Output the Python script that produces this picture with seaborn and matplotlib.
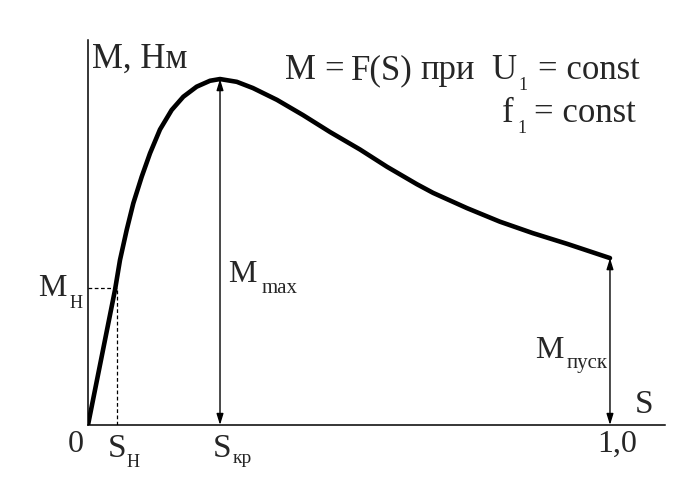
import matplotlib
matplotlib.use("Agg")
import matplotlib.pyplot as plt
import seaborn as sns

# ---- data (slip S, torque M in relative units, M_max = 1) ----
S_values = [0.0, 0.0517, 0.0613, 0.0741, 0.0868, 0.1029, 0.1188, 0.1379, 0.1603,
            0.1826, 0.2082, 0.2337, 0.2529, 0.285, 0.316, 0.362, 0.412, 0.464,
            0.521, 0.573, 0.630, 0.661, 0.726, 0.789, 0.852, 0.918, 1.0]
M_values = [0.0, 0.389, 0.4755, 0.562, 0.639, 0.7156, 0.783, 0.8516, 0.9078,
            0.946, 0.975, 0.992, 0.997, 0.989, 0.971, 0.937, 0.893, 0.844,
            0.794, 0.744, 0.694, 0.669, 0.625, 0.586, 0.553, 0.522, 0.481]
S_nom = 0.055
M_nom = 0.394
S_kr = 0.2529
M_max = 0.997
S_start = 1.0
M_start = 0.481
x_max = 1.1054
y_max = 1.1095

sns.set_style("white")
plt.rcParams["font.family"] = ["Liberation Serif", "DejaVu Serif"]

W, H = 700, 499
fig = plt.figure(figsize=(7, 4.99), dpi=100)
ax = fig.add_axes([88 / W, (H - 425) / H, 577 / W, 385 / H])
ax.set_xlim(0, x_max)
ax.set_ylim(0, y_max)
for side in ["top", "right"]:
    ax.spines[side].set_visible(False)
for side in ["left", "bottom"]:
    ax.spines[side].set_color("black")
    ax.spines[side].set_linewidth(1.1)
ax.set_xticks([])
ax.set_yticks([])
ax.set_facecolor("white")

line_ax = sns.lineplot(x=S_values, y=M_values, ax=ax, color="black", linewidth=3.3,
                       sort=False, estimator=None)
for ln in line_ax.get_lines():
    ln.set_solid_joinstyle("round")
    ln.set_solid_capstyle("round")

# dashed guide lines for nominal point
ax.plot([0, S_nom], [M_nom, M_nom], color="black", lw=0.9, ls=(0, (3, 2)))
ax.plot([S_nom, S_nom], [0, M_nom], color="black", lw=0.9, ls=(0, (3, 2)))

arrow = dict(arrowstyle="<|-|>,head_length=0.55,head_width=0.17", lw=1.0,
             color="black", mutation_scale=12, shrinkA=0, shrinkB=0)
ax.annotate("", xy=(S_kr, M_max), xytext=(S_kr, 0), arrowprops=arrow)
ax.annotate("", xy=(S_start, M_start), xytext=(S_start, 0), arrowprops=arrow)


def t(x, y, s, size, ha="left"):
    fig.text(x / W, 1 - y / H, s, fontsize=size, ha=ha, va="baseline")


big = 25
lab = 23
sub = 13
t(92, 68, "М, Нм", big)
# title, first line
t(285, 79, "M", big)
t(324, 79, "=", big)
t(351, 79, "F(S)", big)
t(420, 79, "при", big)
t(491, 79, "U", big)
t(518, 90, "1", sub)
t(640, 79, "= const", big, ha="right")
# title, second line
t(502, 122, "f", big)
t(517, 133, "1", sub)
t(636, 122, "= const", big, ha="right")

t(38, 296, "М", lab)
t(70, 308, "Н", sub)
t(68, 452, "0", lab)
t(108, 457, "S", 24)
t(127, 467, "Н", sub)
t(213, 457, "S", 24)
t(233, 463, "кр", 14)
t(228, 282, "М", lab)
t(262, 293, "max", 15)
t(535, 358, "М", lab)
t(567, 368, "пуск", 15)
t(635, 413, "S", 24)
t(597, 452, "1,0", lab)

fig.savefig("out.png", dpi=100, facecolor="white")
